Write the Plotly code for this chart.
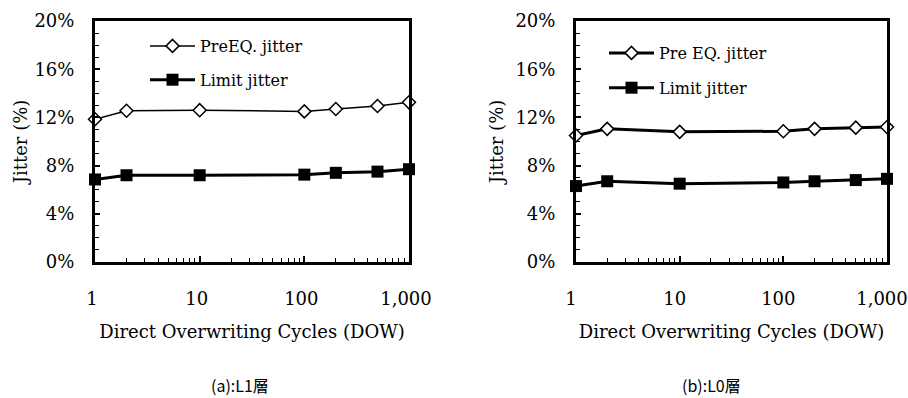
import plotly.graph_objects as go

dow = [1, 2, 10, 100, 200, 500, 1000]
preeq_l1 = [11.85, 12.55, 12.6, 12.5, 12.7, 12.95, 13.25]
limit_l1 = [6.85, 7.2, 7.2, 7.25, 7.4, 7.5, 7.7]
preeq_l0 = [10.5, 11.05, 10.8, 10.85, 11.05, 11.15, 11.2]
limit_l0 = [6.3, 6.7, 6.5, 6.6, 6.7, 6.8, 6.9]

SERIF = "DejaVu Serif"
fig = go.Figure()

# Left panel (L1)
fig.add_trace(go.Scatter(x=dow, y=preeq_l1, mode="lines+markers", name="PreEQ. jitter",
                         line=dict(color="black", width=1.5),
                         marker=dict(symbol="diamond", size=10, color="white",
                                     line=dict(color="black", width=1.5)),
                         xaxis="x", yaxis="y", legend="legend", legendgroup="a1", cliponaxis=False))
fig.add_trace(go.Scatter(x=dow, y=limit_l1, mode="lines+markers", name="Limit jitter",
                         line=dict(color="black", width=3),
                         marker=dict(symbol="square", size=12, color="black"),
                         xaxis="x", yaxis="y", legend="legend", legendgroup="a2", cliponaxis=False))
# Right panel (L0)
fig.add_trace(go.Scatter(x=dow, y=preeq_l0, mode="lines+markers", name="Pre EQ. jitter",
                         line=dict(color="black", width=3),
                         marker=dict(symbol="diamond", size=10, color="white",
                                     line=dict(color="black", width=1.5)),
                         xaxis="x2", yaxis="y2", legend="legend2", legendgroup="b1", cliponaxis=False))
fig.add_trace(go.Scatter(x=dow, y=limit_l0, mode="lines+markers", name="Limit jitter",
                         line=dict(color="black", width=3),
                         marker=dict(symbol="square", size=12, color="black"),
                         xaxis="x2", yaxis="y2", legend="legend2", legendgroup="b2", cliponaxis=False))

ydom = [1 - 262 / 398, 1 - 21 / 398]

def xaxis(domain, anchor, shift):
    return dict(domain=domain, anchor=anchor, type="log", range=[0, 3],
                tickmode="linear", tick0=0, dtick=1, tickformat=",d",
                ticks="inside", ticklen=6, tickwidth=1.5, tickcolor="black",
                minor=dict(ticks="inside", ticklen=4, tickwidth=1.2, tickcolor="black", dtick="D1"),
                showline=True, linewidth=3, linecolor="black", mirror=True,
                showgrid=False, zeroline=False, automargin=False,
                ticklabeloverflow="allow", ticklabelshift=shift,
                tickfont=dict(family=SERIF, size=18, color="black"),
                ticklabelstandoff=18,
                title=dict(text="Direct Overwriting Cycles (DOW)", standoff=18,
                           font=dict(family=SERIF, size=18, color="black")))

def yaxis(anchor, standoff):
    return dict(domain=ydom, anchor=anchor, range=[0, 20],
                tickmode="linear", tick0=0, dtick=4, ticksuffix="%",
                ticks="inside", ticklen=5, tickwidth=1.5, tickcolor="black",
                minor=dict(ticks="inside", ticklen=4, tickwidth=1.2, tickcolor="black", dtick=1),
                showline=True, linewidth=3, linecolor="black", mirror=True,
                showgrid=False, zeroline=False, automargin=False,
                tickfont=dict(family=SERIF, size=18, color="black"),
                ticklabelstandoff=14,
                title=dict(text="Jitter (%)", standoff=standoff,
                           font=dict(family=SERIF, size=18, color="black")))

fig.update_layout(
    width=908, height=398, margin=dict(l=0, r=0, t=0, b=0),
    paper_bgcolor="white", plot_bgcolor="white",
    font=dict(family=SERIF),
    xaxis=xaxis([95 / 908, 409 / 908], "y", -3),
    yaxis=yaxis("x", 3),
    xaxis2=xaxis([576 / 908, 887 / 908], "y2", -5),
    yaxis2=yaxis("x2", 8),
    legend=dict(x=145 / 908, y=1 - 29 / 398, xanchor="left", yanchor="top",
                bgcolor="rgba(0,0,0,0)", borderwidth=0, tracegroupgap=10, itemwidth=45,
                font=dict(family=SERIF, size=16, color="black")),
    legend2=dict(x=604 / 908, y=1 - 36 / 398, xanchor="left", yanchor="top",
                 bgcolor="rgba(0,0,0,0)", borderwidth=0, tracegroupgap=11, itemwidth=45,
                 font=dict(family=SERIF, size=16, color="black")),
    annotations=[
        dict(text="(a):L1層", x=240 / 908, y=1 - 385 / 398, xref="paper", yref="paper",
             xanchor="center", yanchor="middle",
             showarrow=False, font=dict(family="Noto Sans CJK JP", size=16, color="black")),
        dict(text="(b):L0層", x=711 / 908, y=1 - 385 / 398, xref="paper", yref="paper",
             xanchor="center", yanchor="middle",
             showarrow=False, font=dict(family="Noto Sans CJK JP", size=16, color="black")),
    ],
)

fig.write_html("out.html")
